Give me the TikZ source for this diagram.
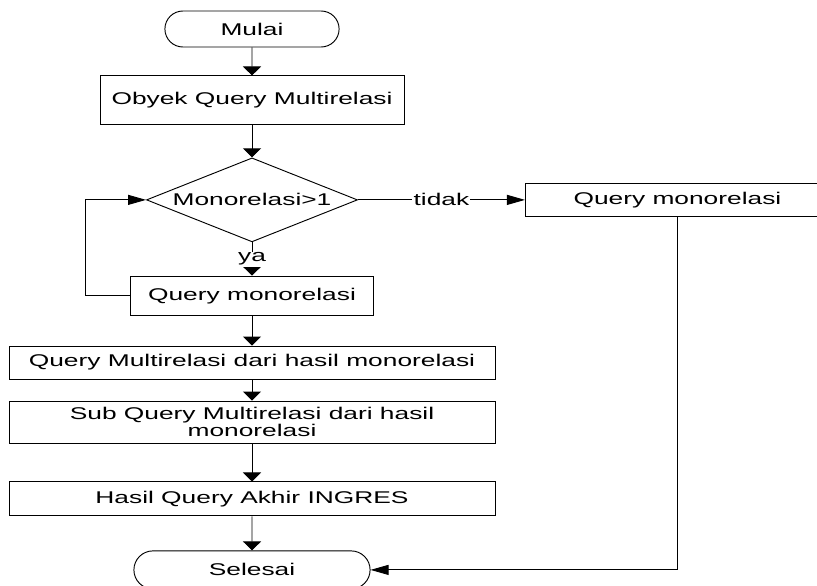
\documentclass[tikz,border=0pt]{standalone}
\usepackage{fontspec}
\setmainfont[FakeStretch=1.55]{Liberation Sans}
\usetikzlibrary{positioning,calc}
\usetikzlibrary{arrows.meta}
\usetikzlibrary{shapes.geometric,shapes.misc}

\begin{document}
\begin{tikzpicture}[
  font=\fontsize{14.5pt}{15pt}\selectfont,
  proc/.style={draw, rectangle, line width=0.8pt, inner sep=2pt, align=center},
  term/.style={draw, rounded rectangle, line width=0.8pt},
  decision/.style={draw, diamond, aspect=2.5, line width=0.8pt, inner sep=0pt},
  down/.style={-{Triangle[length=0.27cm,width=0.54cm]}, line width=0.8pt},
  side/.style={-{Triangle[length=0.54cm,width=0.3cm]}, line width=0.8pt},
  lbl/.style={fill=white, inner sep=1pt}
]
  % \draw[step=1cm, gray!20!white, very thin] (0,0) grid (24.51,-17.55);
  \useasboundingbox (0,0) rectangle (24.51,-17.55);

  \node[term, minimum width=5.46cm, minimum height=1.08cm] at (7.56,-0.87) (start) {Mulai};
  \node[proc, minimum width=9.12cm, minimum height=1.47cm] (obj) [below=0.84cm of start] {Obyek Query Multirelasi};
  \node[decision, minimum width=6.33cm, minimum height=2.52cm] (dec) [below=0.96cm of obj] {Monorelasi>1};
  \node[proc, minimum width=9.12cm, minimum height=0.99cm] (qmr) [right=5.01cm of dec] {Query monorelasi};
  \node[proc, minimum width=7.29cm, minimum height=1.17cm] (qm) [below=1.0cm of dec] {Query monorelasi};
  \node[proc, minimum width=14.58cm, minimum height=0.99cm] (multi) [below=0.9cm of qm] {Query Multirelasi dari hasil monorelasi};
  \node[proc, minimum width=14.58cm, minimum height=1.26cm] (sub) [below=0.63cm of multi] {Sub Query Multirelasi dari hasil\\monorelasi};
  \node[proc, minimum width=14.58cm, minimum height=1.02cm] (hasil) [below=1.14cm of sub] {Hasil Query Akhir INGRES};
  \node[term, minimum width=7.32cm, minimum height=1.14cm] (end) [below=1.02cm of hasil] {Selesai};

  \draw[down] (start) -- (obj);
  \draw[down] (obj) -- (dec);
  \draw[side] (dec.east) -- node[lbl] {tidak} (qmr.west);
  \draw[down] (dec.south) -- node[lbl] {ya} (qm.north);
  \draw[side] (qm.west) -- ++(-1.35,0) |- (dec.west);
  \draw[down] (qm) -- (multi);
  \draw[down] (multi) -- (sub);
  \draw[down] (sub) -- (hasil);
  \draw[down] (hasil) -- (end);
  \draw[side] (qmr.south) |- (end.east);

\end{tikzpicture}
\end{document}
